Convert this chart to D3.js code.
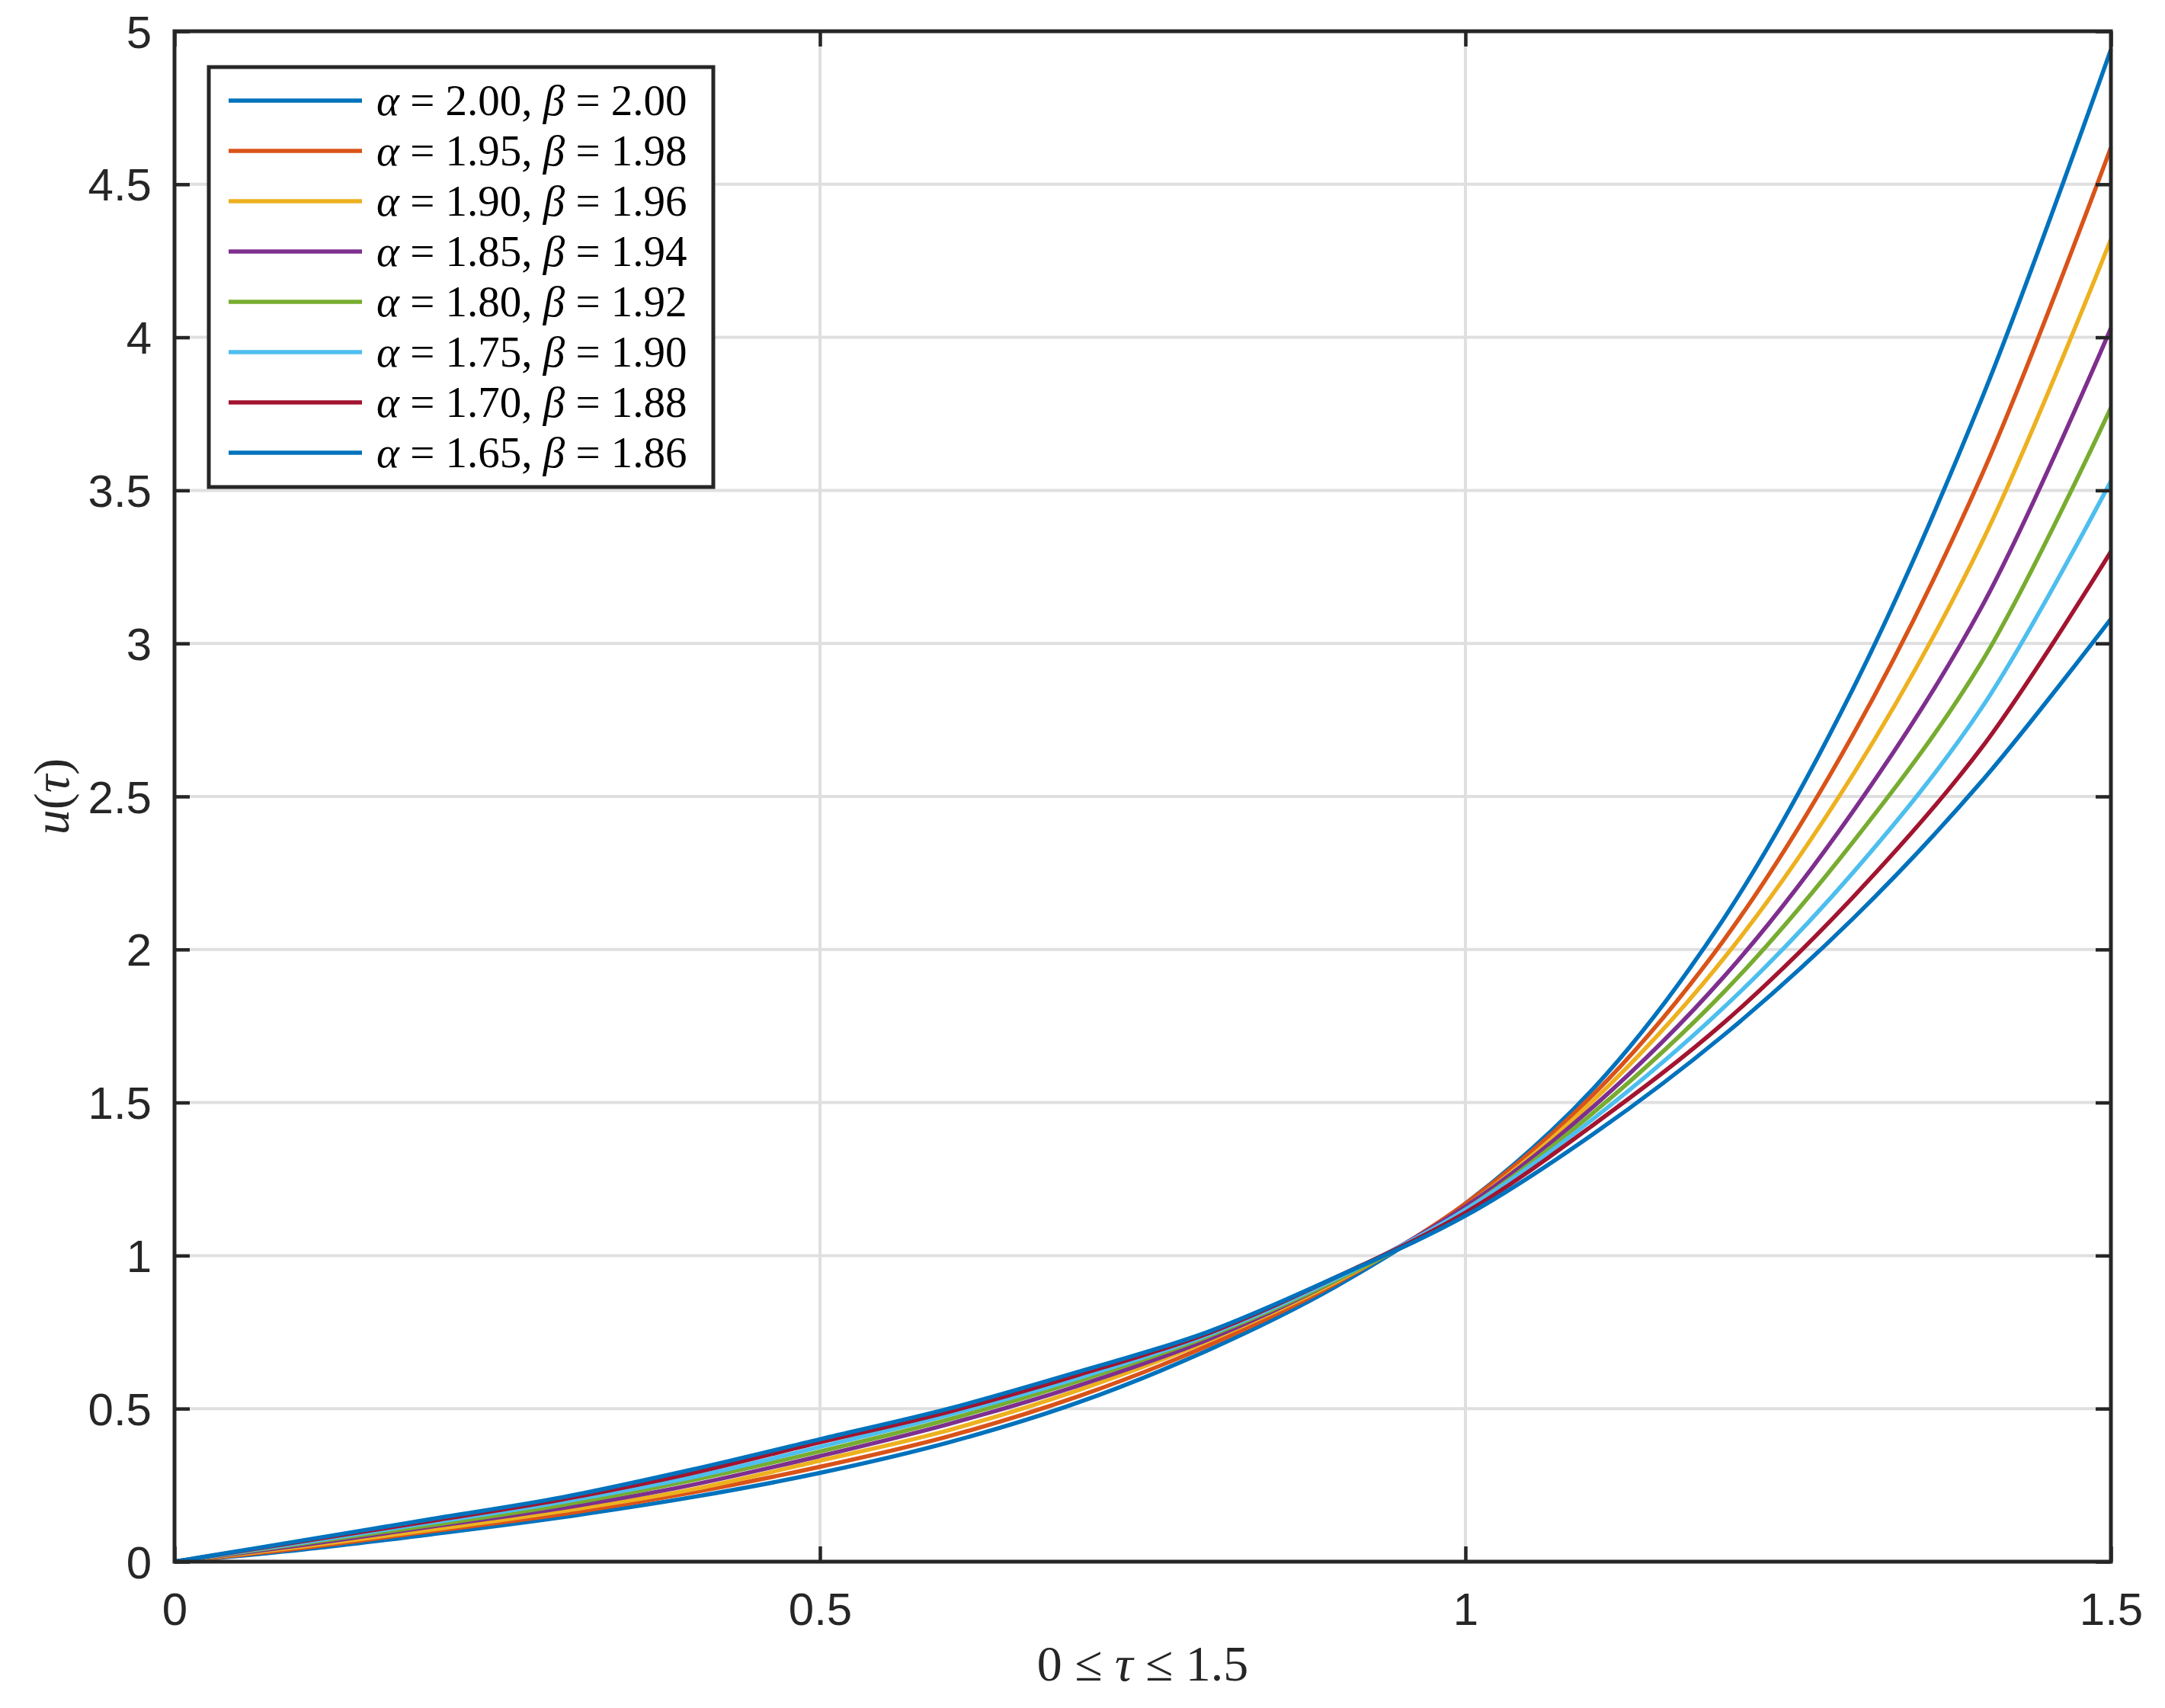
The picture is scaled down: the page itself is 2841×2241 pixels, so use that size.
<!DOCTYPE html>
<html><head><meta charset="utf-8">
<script src="https://cdn.jsdelivr.net/npm/d3@7.9.0/dist/d3.min.js"></script>
<style>body{margin:0;background:#fff}</style></head>
<body><svg id="chart" width="2841" height="2241"></svg>
<script>
const tau = [0, 0.1, 0.2, 0.3, 0.4, 0.5, 0.6, 0.7, 0.8, 0.9, 1.0, 1.1, 1.2, 1.3, 1.4, 1.5];
const alphas = ["2.00", "1.95", "1.90", "1.85", "1.80", "1.75", "1.70", "1.65"];
const betas = ["2.00", "1.98", "1.96", "1.94", "1.92", "1.90", "1.88", "1.86"];
const u1 = [0, .04, .09, .145, .21, .29, .39, .52, .69, .90, 1.17, 1.55, 2.10, 2.85, 3.80, 4.94];
const u2 = [0, .045, .10, .155, .225, .31, .41, .54, .705, .91, 1.17, 1.53, 2.03, 2.70, 3.55, 4.62];
const u3 = [0, .05, .105, .165, .235, .33, .43, .56, .72, .915, 1.16, 1.51, 1.97, 2.57, 3.33, 4.32];
const u4 = [0, .055, .115, .175, .25, .345, .45, .575, .725, .92, 1.16, 1.49, 1.91, 2.45, 3.12, 4.03];
const u5 = [0, .06, .12, .185, .265, .36, .465, .59, .735, .92, 1.15, 1.47, 1.86, 2.35, 2.94, 3.77];
const u6 = [0, .063, .128, .195, .275, .375, .48, .60, .74, .925, 1.15, 1.45, 1.81, 2.25, 2.79, 3.53];
const u7 = [0, .067, .134, .203, .288, .39, .49, .61, .745, .93, 1.14, 1.43, 1.76, 2.17, 2.66, 3.30];
const u8 = [0, .07, .14, .21, .30, .40, .50, .62, .75, .93, 1.13, 1.40, 1.72, 2.10, 2.55, 3.08];
const series = [u1, u2, u3, u4, u5, u6, u7, u8];
const colors = ["#0072BD", "#D95319", "#EDB120", "#7E2F8E", "#77AC30", "#4DBEEE", "#A2142F", "#0072BD"];
const xTicks = [0, 0.5, 1, 1.5];
const yTicks = [0, 0.5, 1, 1.5, 2, 2.5, 3, 3.5, 4, 4.5, 5];

const L = 229, R = 2770, T = 41, B = 2049;
const svg = d3.select("#chart");
const x = d3.scaleLinear().domain([0, 1.5]).range([L, R]);
const y = d3.scaleLinear().domain([0, 5]).range([B, T]);

// grid
svg.append("g").selectAll("line").data(xTicks).join("line")
  .attr("x1", d => x(d)).attr("x2", d => x(d)).attr("y1", T).attr("y2", B)
  .attr("stroke", "#dfdfdf").attr("stroke-width", 4);
svg.append("g").selectAll("line").data(yTicks).join("line")
  .attr("x1", L).attr("x2", R).attr("y1", d => y(d)).attr("y2", d => y(d))
  .attr("stroke", "#dfdfdf").attr("stroke-width", 4);

// curves
const line = d3.line().x((d, i) => x(tau[i])).y(d => y(d)).curve(d3.curveCatmullRom.alpha(0.5));
svg.append("g").selectAll("path").data(series).join("path")
  .attr("d", line).attr("fill", "none")
  .attr("stroke", (d, i) => colors[i]).attr("stroke-width", 5.5);

// axes with inward ticks on all sides
const tick = 20, font = "Liberation Sans, Arial, sans-serif";
const axB = svg.append("g").attr("transform", `translate(0,${B})`)
  .call(d3.axisBottom(x).tickValues(xTicks).tickSizeInner(-tick).tickSizeOuter(0).tickPadding(40).tickFormat(d3.format("")));
const axT = svg.append("g").attr("transform", `translate(0,${T})`)
  .call(d3.axisTop(x).tickValues(xTicks).tickSizeInner(-tick).tickSizeOuter(0).tickFormat(""));
const axL = svg.append("g").attr("transform", `translate(${L},0)`)
  .call(d3.axisLeft(y).tickValues(yTicks).tickSizeInner(-tick).tickSizeOuter(0).tickPadding(30).tickFormat(d3.format("")));
const axR = svg.append("g").attr("transform", `translate(${R},0)`)
  .call(d3.axisRight(y).tickValues(yTicks).tickSizeInner(-tick).tickSizeOuter(0).tickFormat(""));
[axB, axT, axL, axR].forEach(a => {
  a.select(".domain").remove();
  a.selectAll("line").attr("stroke", "#262626").attr("stroke-width", 4.5);
  a.selectAll("text").attr("font-family", font).attr("font-size", 60).attr("fill", "#262626");
});
axL.selectAll("text").attr("dy", "0.35em");
svg.append("rect").attr("x", L).attr("y", T).attr("width", R - L).attr("height", B - T)
  .attr("fill", "none").attr("stroke", "#262626").attr("stroke-width", 5);

// axis labels
const serif = "Liberation Serif, Times New Roman, serif";
const xl = svg.append("text").attr("x", (L + R) / 2).attr("y", 2205).attr("text-anchor", "middle")
  .attr("font-family", serif).attr("font-size", 66).attr("fill", "#262626");
xl.append("tspan").text("0 ≤ ");
xl.append("tspan").attr("font-style", "italic").text("τ");
xl.append("tspan").text(" ≤ 1.5");
const yl = svg.append("text").attr("transform", "translate(90,1045) rotate(-90)").attr("text-anchor", "middle")
  .attr("font-family", serif).attr("font-size", 66).attr("fill", "#262626");
yl.append("tspan").attr("font-style", "italic").text("u");
yl.append("tspan").text("(");
yl.append("tspan").attr("font-style", "italic").text("τ");
yl.append("tspan").text(")");

// legend
const lg = svg.append("g");
lg.append("rect").attr("x", 274).attr("y", 88).attr("width", 662).attr("height", 551)
  .attr("fill", "#fff").attr("stroke", "#262626").attr("stroke-width", 5);
const rows = lg.selectAll("g.row").data(alphas).join("g").attr("class", "row")
  .attr("transform", (d, i) => `translate(0,${132 + i * 66})`);
rows.append("line").attr("x1", 300).attr("x2", 475).attr("y1", 0).attr("y2", 0)
  .attr("stroke", (d, i) => colors[i]).attr("stroke-width", 5.5);
const lt = rows.append("text").attr("x", 494).attr("y", 19)
  .attr("font-family", serif).attr("font-size", 57).attr("fill", "#000");
lt.append("tspan").attr("font-style", "italic").text("α");
lt.append("tspan").text(d => " = " + d + ", ");
lt.append("tspan").attr("font-style", "italic").text("β");
lt.append("tspan").text((d, i) => " = " + betas[i]);
</script></body></html>
